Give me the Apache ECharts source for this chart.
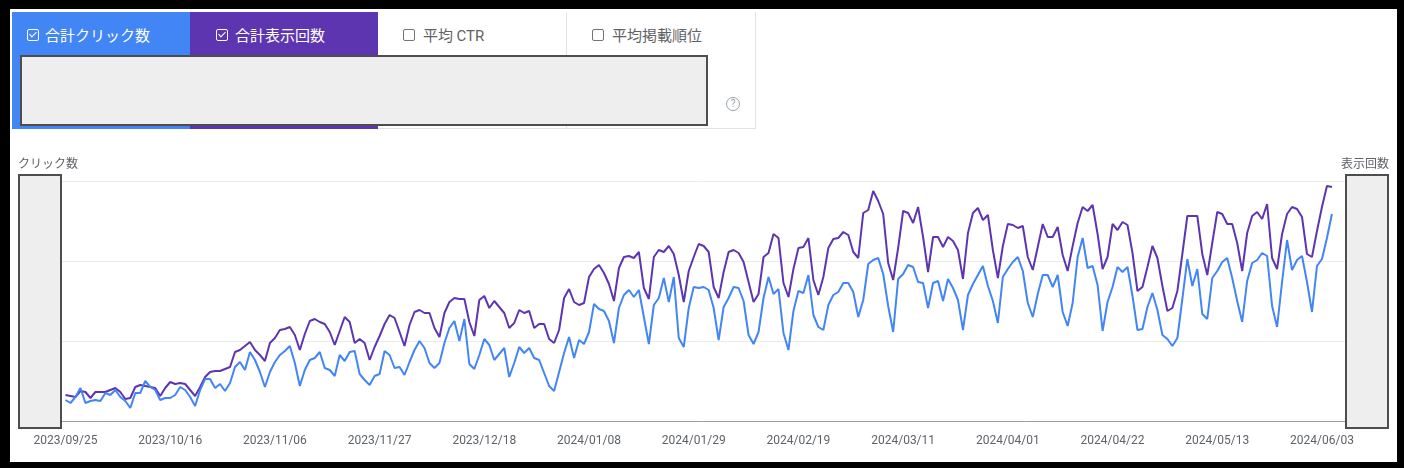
<!DOCTYPE html>
<html>
<head>
<meta charset="utf-8">
<script src="https://cdn.jsdelivr.net/npm/echarts@6/dist/echarts.min.js"></script>
<style>
html,body{margin:0;padding:0;width:1404px;height:468px;overflow:hidden;background:#000;}
#frame{position:absolute;left:10px;top:9px;width:1387px;height:453px;background:#fff;}
#chart{position:absolute;left:0;top:0;width:1404px;height:468px;}
.abs{position:absolute;box-sizing:border-box;}
.tabtxt{position:absolute;font-family:'Noto Sans CJK JP','Noto Sans',sans-serif;font-size:15px;line-height:20px;white-space:nowrap;}
.cb{position:absolute;width:12px;height:12px;box-sizing:border-box;border:1.5px solid;border-radius:2px;}
.cb.on::after{content:'';position:absolute;left:3px;top:0px;width:3px;height:6px;border-right:1.5px solid #fff;border-bottom:1.5px solid #fff;transform:rotate(45deg);}
.redact{position:absolute;box-sizing:border-box;background:#eeeeee;border:2px solid #4d4d4d;}
.axname{position:absolute;font-family:'Noto Sans CJK JP','Noto Sans',sans-serif;font-size:12px;line-height:16px;color:#5f6368;white-space:nowrap;}
</style>
</head>
<body>
<div id="frame"></div>
<!-- metric tabs -->
<div class="abs" style="left:12px;top:12px;width:178px;height:117px;background:#4285f4;"></div>
<div class="abs" style="left:190px;top:12px;width:188px;height:117px;background:#5e35b1;"></div>
<div class="abs" style="left:378px;top:12px;width:378px;height:117px;border-right:1px solid #e3e3e3;border-bottom:1px solid #e3e3e3;"></div>
<div class="abs" style="left:566px;top:12px;width:1px;height:116px;background:#e3e3e3;"></div>

<div class="cb on" style="left:27px;top:29px;border-color:#fff;"></div>
<div class="tabtxt" style="left:45px;top:25px;color:#fff;">合計クリック数</div>
<div class="cb on" style="left:216px;top:29px;border-color:#fff;"></div>
<div class="tabtxt" style="left:235px;top:25px;color:#fff;">合計表示回数</div>
<div class="cb" style="left:403px;top:29px;border-color:#70757a;"></div>
<div class="tabtxt" style="left:423px;top:25px;color:#5f6368;">平均 <span style="font-family:Roboto,sans-serif;">CTR</span></div>
<div class="cb" style="left:592px;top:29px;border-color:#70757a;"></div>
<div class="tabtxt" style="left:612px;top:25px;color:#5f6368;">平均掲載順位</div>
<div class="abs" style="left:726px;top:97px;width:14px;height:14px;border:1.3px solid #9aa0a6;border-radius:50%;font-family:Roboto,sans-serif;font-size:10px;line-height:12px;text-align:center;color:#9aa0a6;">?</div>
<div class="redact" style="left:20px;top:55px;width:688px;height:71px;"></div>

<div id="chart"></div>

<div class="axname" style="left:18px;top:155px;">クリック数</div>
<div class="axname" style="left:1341px;top:155px;">表示回数</div>
<div class="redact" style="left:18px;top:174px;width:44px;height:255px;"></div>
<div class="redact" style="left:1345px;top:174px;width:44px;height:255px;"></div>

<script>
// Daily data, 2023/09/25 .. 2024/06/05 (arbitrary units)
var firstDay = '2023-09-25';
var clicks = [
  21, 18, 24, 33, 18, 20, 21, 20, 28, 26,
  31, 24, 20, 13, 28, 28, 40, 34, 31, 21,
  23, 23, 26, 34, 31, 24, 15, 31, 42, 42,
  33, 37, 30, 38, 54, 59, 51, 69, 61, 49,
  34, 49, 59, 66, 70, 75, 58, 35, 51, 61,
  63, 69, 53, 51, 45, 66, 60, 69, 70, 47,
  41, 36, 45, 47, 70, 66, 53, 54, 46, 59,
  71, 80, 73, 58, 53, 58, 78, 93, 100, 80,
  102, 57, 52, 66, 82, 76, 61, 67, 73, 44,
  58, 74, 68, 73, 63, 61, 48, 35, 30, 49,
  68, 84, 63, 81, 77, 89, 117, 112, 110, 100,
  78, 113, 126, 131, 124, 131, 104, 77, 116, 123,
  143, 119, 144, 83, 74, 113, 134, 133, 134, 131,
  113, 81, 114, 123, 134, 133, 120, 86, 77, 89,
  123, 144, 127, 132, 88, 71, 110, 130, 128, 146,
  106, 94, 91, 116, 126, 129, 138, 138, 129, 104,
  121, 157, 161, 163, 147, 115, 89, 142, 147, 156,
  154, 139, 138, 113, 138, 140, 120, 142, 133, 121,
  91, 126, 137, 146, 155, 135, 120, 98, 144, 152,
  159, 164, 150, 118, 104, 127, 146, 146, 134, 146,
  109, 95, 118, 164, 183, 153, 155, 136, 90, 119,
  134, 154, 149, 154, 125, 91, 92, 114, 128, 111,
  86, 82, 75, 83, 122, 162, 135, 152, 107, 102,
  143, 150, 159, 163, 143, 120, 99, 140, 158, 161,
  168, 165, 115, 94, 139, 181, 151, 161, 165, 139,
  109, 155, 162, 183, 207
];
var impressions = [
  26, 25, 24, 30, 29, 23, 29, 29, 29, 31,
  33, 29, 22, 23, 34, 36, 35, 34, 33, 25,
  33, 39, 37, 38, 37, 31, 25, 34, 44, 49,
  50, 50, 52, 54, 69, 71, 75, 79, 71, 66,
  60, 78, 83, 91, 92, 94, 86, 71, 87, 100,
  102, 99, 97, 89, 76, 90, 104, 99, 78, 82,
  78, 61, 74, 85, 97, 106, 103, 89, 75, 96,
  109, 111, 108, 108, 93, 84, 108, 119, 123, 122,
  122, 99, 85, 121, 125, 113, 120, 114, 108, 93,
  98, 111, 108, 110, 93, 97, 97, 82, 78, 91,
  123, 132, 119, 116, 118, 144, 152, 156, 148, 137,
  120, 153, 164, 165, 163, 169, 133, 122, 164, 171,
  169, 175, 167, 146, 119, 150, 164, 177, 175, 169,
  134, 123, 149, 169, 171, 168, 159, 139, 119, 127,
  164, 168, 187, 183, 138, 124, 152, 173, 174, 183,
  141, 126, 144, 173, 182, 183, 189, 186, 169, 163,
  208, 211, 230, 220, 207, 158, 141, 173, 210, 208,
  198, 214, 184, 149, 184, 184, 174, 184, 180, 171,
  142, 188, 208, 213, 201, 206, 171, 143, 175, 197,
  196, 193, 195, 164, 151, 174, 197, 184, 184, 194,
  166, 150, 175, 198, 214, 210, 216, 187, 152, 164,
  197, 191, 199, 196, 168, 130, 134, 154, 175, 163,
  135, 110, 113, 130, 167, 205, 205, 205, 167, 146,
  178, 209, 207, 197, 197, 178, 150, 188, 205, 209,
  202, 217, 163, 152, 187, 207, 214, 212, 204, 167,
  164, 190, 214, 235, 234
];
var tickLabels = ['2023/09/25','2023/10/16','2023/11/06','2023/11/27','2023/12/18','2024/01/08',
  '2024/01/29','2024/02/19','2024/03/11','2024/04/01','2024/04/22','2024/05/13','2024/06/03'];

// category axis: one empty day before and three after the data so the grid spans the frame
var padBefore = 1, padAfter = 3;
function fmt(d){
  var m = d.getUTCMonth()+1, dd = d.getUTCDate();
  return d.getUTCFullYear()+'/'+(m<10?'0':'')+m+'/'+(dd<10?'0':'')+dd;
}
var p = firstDay.split('-');
var t0 = Date.UTC(+p[0], +p[1]-1, +p[2]);
var categories = [];
for (var i = -padBefore; i < clicks.length + padAfter; i++) {
  categories.push(fmt(new Date(t0 + i*86400000)));
}
function pad(arr){
  var out = [];
  for (var i = 0; i < padBefore; i++) out.push(null);
  out = out.concat(arr);
  for (var j = 0; j < padAfter; j++) out.push(null);
  return out;
}

var step = 4.986;
var gridLeft = 60.5;
var gridRight = 1404 - (gridLeft + (categories.length-1)*step);

var chart = echarts.init(document.getElementById('chart'), null, {renderer:'canvas'});
chart.setOption({
  animation: false,
  backgroundColor: 'transparent',
  grid: {left: gridLeft, right: gridRight, top: 181, bottom: 47},
  xAxis: {
    type: 'category',
    data: categories,
    boundaryGap: false,
    axisLine: {lineStyle: {color: '#9e9e9e', width: 1}},
    axisTick: {show: false},
    axisLabel: {
      interval: function(idx, val){ return tickLabels.indexOf(val) >= 0; },
      color: '#5f6368',
      fontFamily: 'Roboto, sans-serif',
      fontSize: 12,
      margin: 14
    },
    splitLine: {show: false}
  },
  yAxis: [
    {type:'value', min:0, max:240, interval:80, axisLabel:{show:false}, axisLine:{show:false}, axisTick:{show:false},
     splitLine:{lineStyle:{color:'#ebebeb', width:1}}},
    {type:'value', position:'right', min:0, max:240, interval:80, axisLabel:{show:false}, axisLine:{show:false}, axisTick:{show:false},
     splitLine:{show:false}}
  ],
  series: [
    {name:'合計表示回数', type:'line', yAxisIndex:1, data: pad(impressions), symbol:'none', connectNulls:false,
     lineStyle:{color:'#5e35b1', width:2}, itemStyle:{color:'#5e35b1'}},
    {name:'合計クリック数', type:'line', yAxisIndex:0, data: pad(clicks), symbol:'none', connectNulls:false,
     lineStyle:{color:'#4285f4', width:2}, itemStyle:{color:'#4285f4'}}
  ]
});
</script>
</body>
</html>
